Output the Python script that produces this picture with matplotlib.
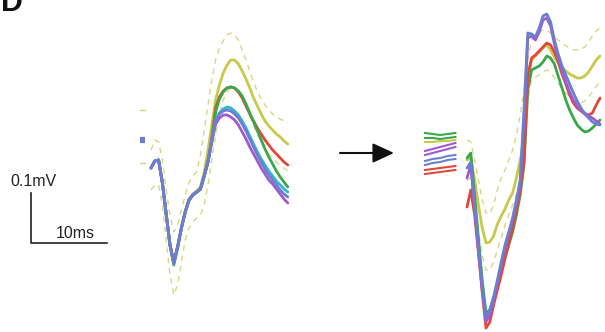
import numpy as np
import matplotlib
matplotlib.use("Agg")
import matplotlib.pyplot as plt

plt.rcParams['font.family'] = ['Liberation Sans', 'DejaVu Sans']

# ---------------- data (time in ms, voltage in microvolts) ----------------
# Left panel traces (before), sampled every 0.5 ms from 0 to 18 ms
t_left = np.arange(0, 18.01, 0.5)
left_yellow = [0, 14, 16, -30, -92, -152, -186, -156, -118, -86, -62, -52, -46, -38, -8, 36, 86, 136,
               166, 190, 206, 216, 216, 208, 194, 178, 160, 140, 124, 108, 94, 84, 76, 68, 62, 54, 48]
left_red = [0, 14, 16, -30, -92, -154, -190, -158, -120, -88, -64, -54, -48, -42, -16, 14, 60, 120,
            142, 154, 160, 162, 160, 152, 140, 124, 108, 94, 80, 68, 56, 46, 36, 28, 20, 12, 6]
left_green = [0, 14, 16, -30, -94, -156, -194, -160, -121, -89, -65, -55, -49, -43, -17, 12, 56, 112,
              138, 152, 160, 162, 160, 154, 144, 128, 110, 92, 74, 56, 38, 22, 8, -6, -18, -28, -38]
left_cyan = [0, 14, 16, -30, -92, -154, -190, -158, -120, -88, -64, -54, -48, -42, -16, 12, 54, 94,
             110, 118, 122, 120, 114, 106, 94, 80, 64, 48, 32, 18, 6, -6, -16, -26, -34, -42, -48]
left_blue = [0, 14, 16, -30, -92, -154, -190, -158, -120, -88, -64, -54, -48, -42, -16, 12, 54, 96,
             108, 114, 116, 114, 108, 100, 88, 74, 58, 42, 26, 12, -2, -14, -24, -34, -44, -52, -58]
left_purple = [0, 14, 16, -30, -92, -154, -190, -158, -120, -88, -64, -54, -48, -42, -16, 12, 52, 88,
               100, 106, 106, 102, 96, 86, 72, 58, 42, 28, 14, 0, -12, -24, -32, -42, -52, -62, -70]
left_ci_upper = [36, 56, 52, 16, -44, -94, -128, -114, -84, -54, -30, -16, -8, 26, 76, 126, 176, 216,
                 240, 254, 266, 270, 266, 256, 236, 216, 194, 172, 152, 138, 126, 116, 108, 102, 98, 94, 90]
left_ci_lower = [-44, -34, -34, -74, -144, -214, -254, -234, -188, -144, -120, -108, -100, -94, -74, -34, 16, 66,
                 106, 136, 152, 160, 160, 152, 138, 122, 104, 84, 68, 52, 40, 28, 20, 12, 6, 0, -6]

# Left pre-stimulus baseline marker
t_left_base = [0.0, 0.7]
left_base = [56, 56]
left_base_ci_upper = [116, 116]
left_base_ci_lower = [10, 10]

# Right panel traces (after), sampled every 0.5 ms from 0 to 17.5 ms
t_right = np.arange(0, 17.51, 0.5)
right_yellow = [-6, -2, -46, -96, -142, -172, -170, -158, -134, -118, -104, -86, -72, -42, -6, 34, 154, 194,
                202, 210, 218, 224, 214, 200, 188, 180, 172, 166, 162, 158, 158, 162, 170, 182, 194, 202]
right_red = [-100, -66, -116, -190, -270, -342, -330, -296, -266, -236, -202, -172, -142, -106, -66, -6, 164, 198,
             204, 212, 220, 228, 224, 210, 190, 166, 146, 124, 108, 98, 92, 86, 84, 88, 104, 118]
right_green = [-2, 8, -76, -162, -246, -312, -306, -282, -256, -230, -202, -176, -150, -116, -76, -16, 134, 174,
               178, 182, 190, 202, 198, 186, 162, 138, 114, 94, 78, 64, 56, 50, 52, 58, 66, 74]
right_purple = [-42, -16, -102, -186, -266, -330, -316, -286, -252, -216, -182, -154, -126, -92, -56, 74, 238, 242,
                234, 250, 274, 278, 262, 226, 198, 172, 150, 130, 114, 102, 94, 88, 82, 78, 72, 66]
right_blue = [-22, -10, -96, -176, -256, -322, -306, -280, -246, -210, -176, -150, -122, -86, -46, 94, 248, 246,
              240, 258, 282, 286, 270, 234, 206, 182, 164, 146, 128, 112, 98, 86, 78, 70, 66, 64]
right_ci_upper = [34, 30, -6, -46, -86, -112, -114, -96, -66, -42, -26, -6, 14, 44, 84, 134, 194, 234,
                  244, 250, 254, 254, 248, 240, 234, 228, 222, 218, 214, 214, 216, 220, 230, 242, 252, 258]
right_ci_lower = [-46, -42, -86, -146, -196, -226, -226, -210, -186, -162, -136, -116, -96, -76, -46, -6, 114, 154,
                  160, 164, 170, 174, 170, 158, 146, 138, 128, 120, 114, 110, 108, 112, 120, 130, 142, 150]

# Right pre-stimulus baseline snippets (pairs of lines per condition)
t_right_base = [0, 1, 2, 3, 4]
rb_green = ([48, 46, 44, 46, 48], [38, 38, 36, 38, 40])
rb_yellow = ([30, 30, 32, 32, 34],)
rb_purple = ([12, 16, 20, 24, 28], [4, 8, 12, 16, 20])
rb_blue = ([-8, -4, -2, 2, 4], [-16, -12, -10, -6, -4])
rb_red = ([-26, -24, -22, -20, -18], [-34, -32, -30, -28, -26])

# Scale bar values
scale_time_ms = 10
scale_volt_uv = 100

# ---------------- styling ----------------
C_YEL = '#c8c84a'
C_YEL_D = '#d8d684'
C_RED = '#e0483a'
C_GRN = '#3aa84a'
C_CYN = '#35b5c8'
C_BLU = '#6a7fd0'
C_PUR = '#a05ad0'

PX_PER_MS = 7.6
UV_PER_PX = 2.0
W, H = 605, 332

fig = plt.figure(figsize=(W / 100, H / 100), dpi=100)
ax = fig.add_axes([0, 0, 1, 1])
ax.set_xlim(0, W / PX_PER_MS)
ax.set_ylim(-H * UV_PER_PX, 0)
ax.axis('off')


def pos(px, py):
    return px / PX_PER_MS, -py * UV_PER_PX


# left panel placement
lx, ly = pos(151, 168)
LW = 2.0
dash = dict(lw=1.0, ls=(0, (4, 3.5)), color=C_YEL_D)
ax.plot(t_left + lx, np.array(left_ci_upper) + ly, **dash)
ax.plot(t_left + lx, np.array(left_ci_lower) + ly, **dash)
for series, col in [(left_yellow, C_YEL), (left_red, C_RED), (left_green, C_GRN),
                    (left_cyan, C_CYN), (left_purple, C_PUR), (left_blue, C_BLU)]:
    ax.plot(t_left + lx, np.array(series) + ly, color=col, lw=LW, solid_capstyle='round')

bx, _ = pos(139.5, 168)
ax.plot(np.array(t_left_base) + bx, np.array(left_base) + ly, color=C_BLU, lw=4.5, solid_capstyle='butt')
ax.plot(np.array(t_left_base) + bx, np.array(left_base_ci_upper) + ly, color=C_YEL_D, lw=1.0)
ax.plot(np.array(t_left_base) + bx, np.array(left_base_ci_lower) + ly, color=C_YEL_D, lw=1.0)

# right panel placement
rx, ry = pos(467, 157)
ax.plot(t_right + rx, np.array(right_ci_upper) + ry, **dash)
ax.plot(t_right + rx, np.array(right_ci_lower) + ry, **dash)
for series, col in [(right_yellow, C_YEL), (right_green, C_GRN), (right_red, C_RED),
                    (right_purple, C_PUR), (right_blue, C_BLU)]:
    ax.plot(t_right + rx, np.array(series) + ry, color=col, lw=LW, solid_capstyle='round')

sbx, _ = pos(425, 157)
for lines, col in [(rb_green, C_GRN), (rb_yellow, C_YEL), (rb_purple, C_PUR),
                   (rb_blue, C_BLU), (rb_red, C_RED)]:
    for ln in lines:
        ax.plot(np.array(t_right_base) + sbx, np.array(ln) + ry, color=col, lw=1.5)

# arrow
a0 = pos(340, 153)
a1 = pos(394, 153)
ax.annotate('', xy=a1, xytext=a0,
            arrowprops=dict(arrowstyle='-|>,head_length=1.3,head_width=0.6', lw=1.5, color='#111111',
                            shrinkA=0, shrinkB=0))

# scale bar
sx, sy = pos(31, 243)
ax.plot([sx, sx, sx + scale_time_ms], [sy + scale_volt_uv, sy, sy], color='#222222', lw=1.2)
tx, ty = pos(10, 182)
ax.text(tx, ty, '0.1mV', fontsize=11.5, ha='left', va='center', color='#222222')
tx, ty = pos(75, 233)
ax.text(tx, ty, '10ms', fontsize=11.5, ha='center', va='center', color='#222222')

# panel letter
dx, dy = pos(1, 11)
ax.text(dx, dy, 'D', fontsize=22, fontweight='bold', ha='left', va='baseline', color='#111111')

fig.savefig('out.png', dpi=100)
